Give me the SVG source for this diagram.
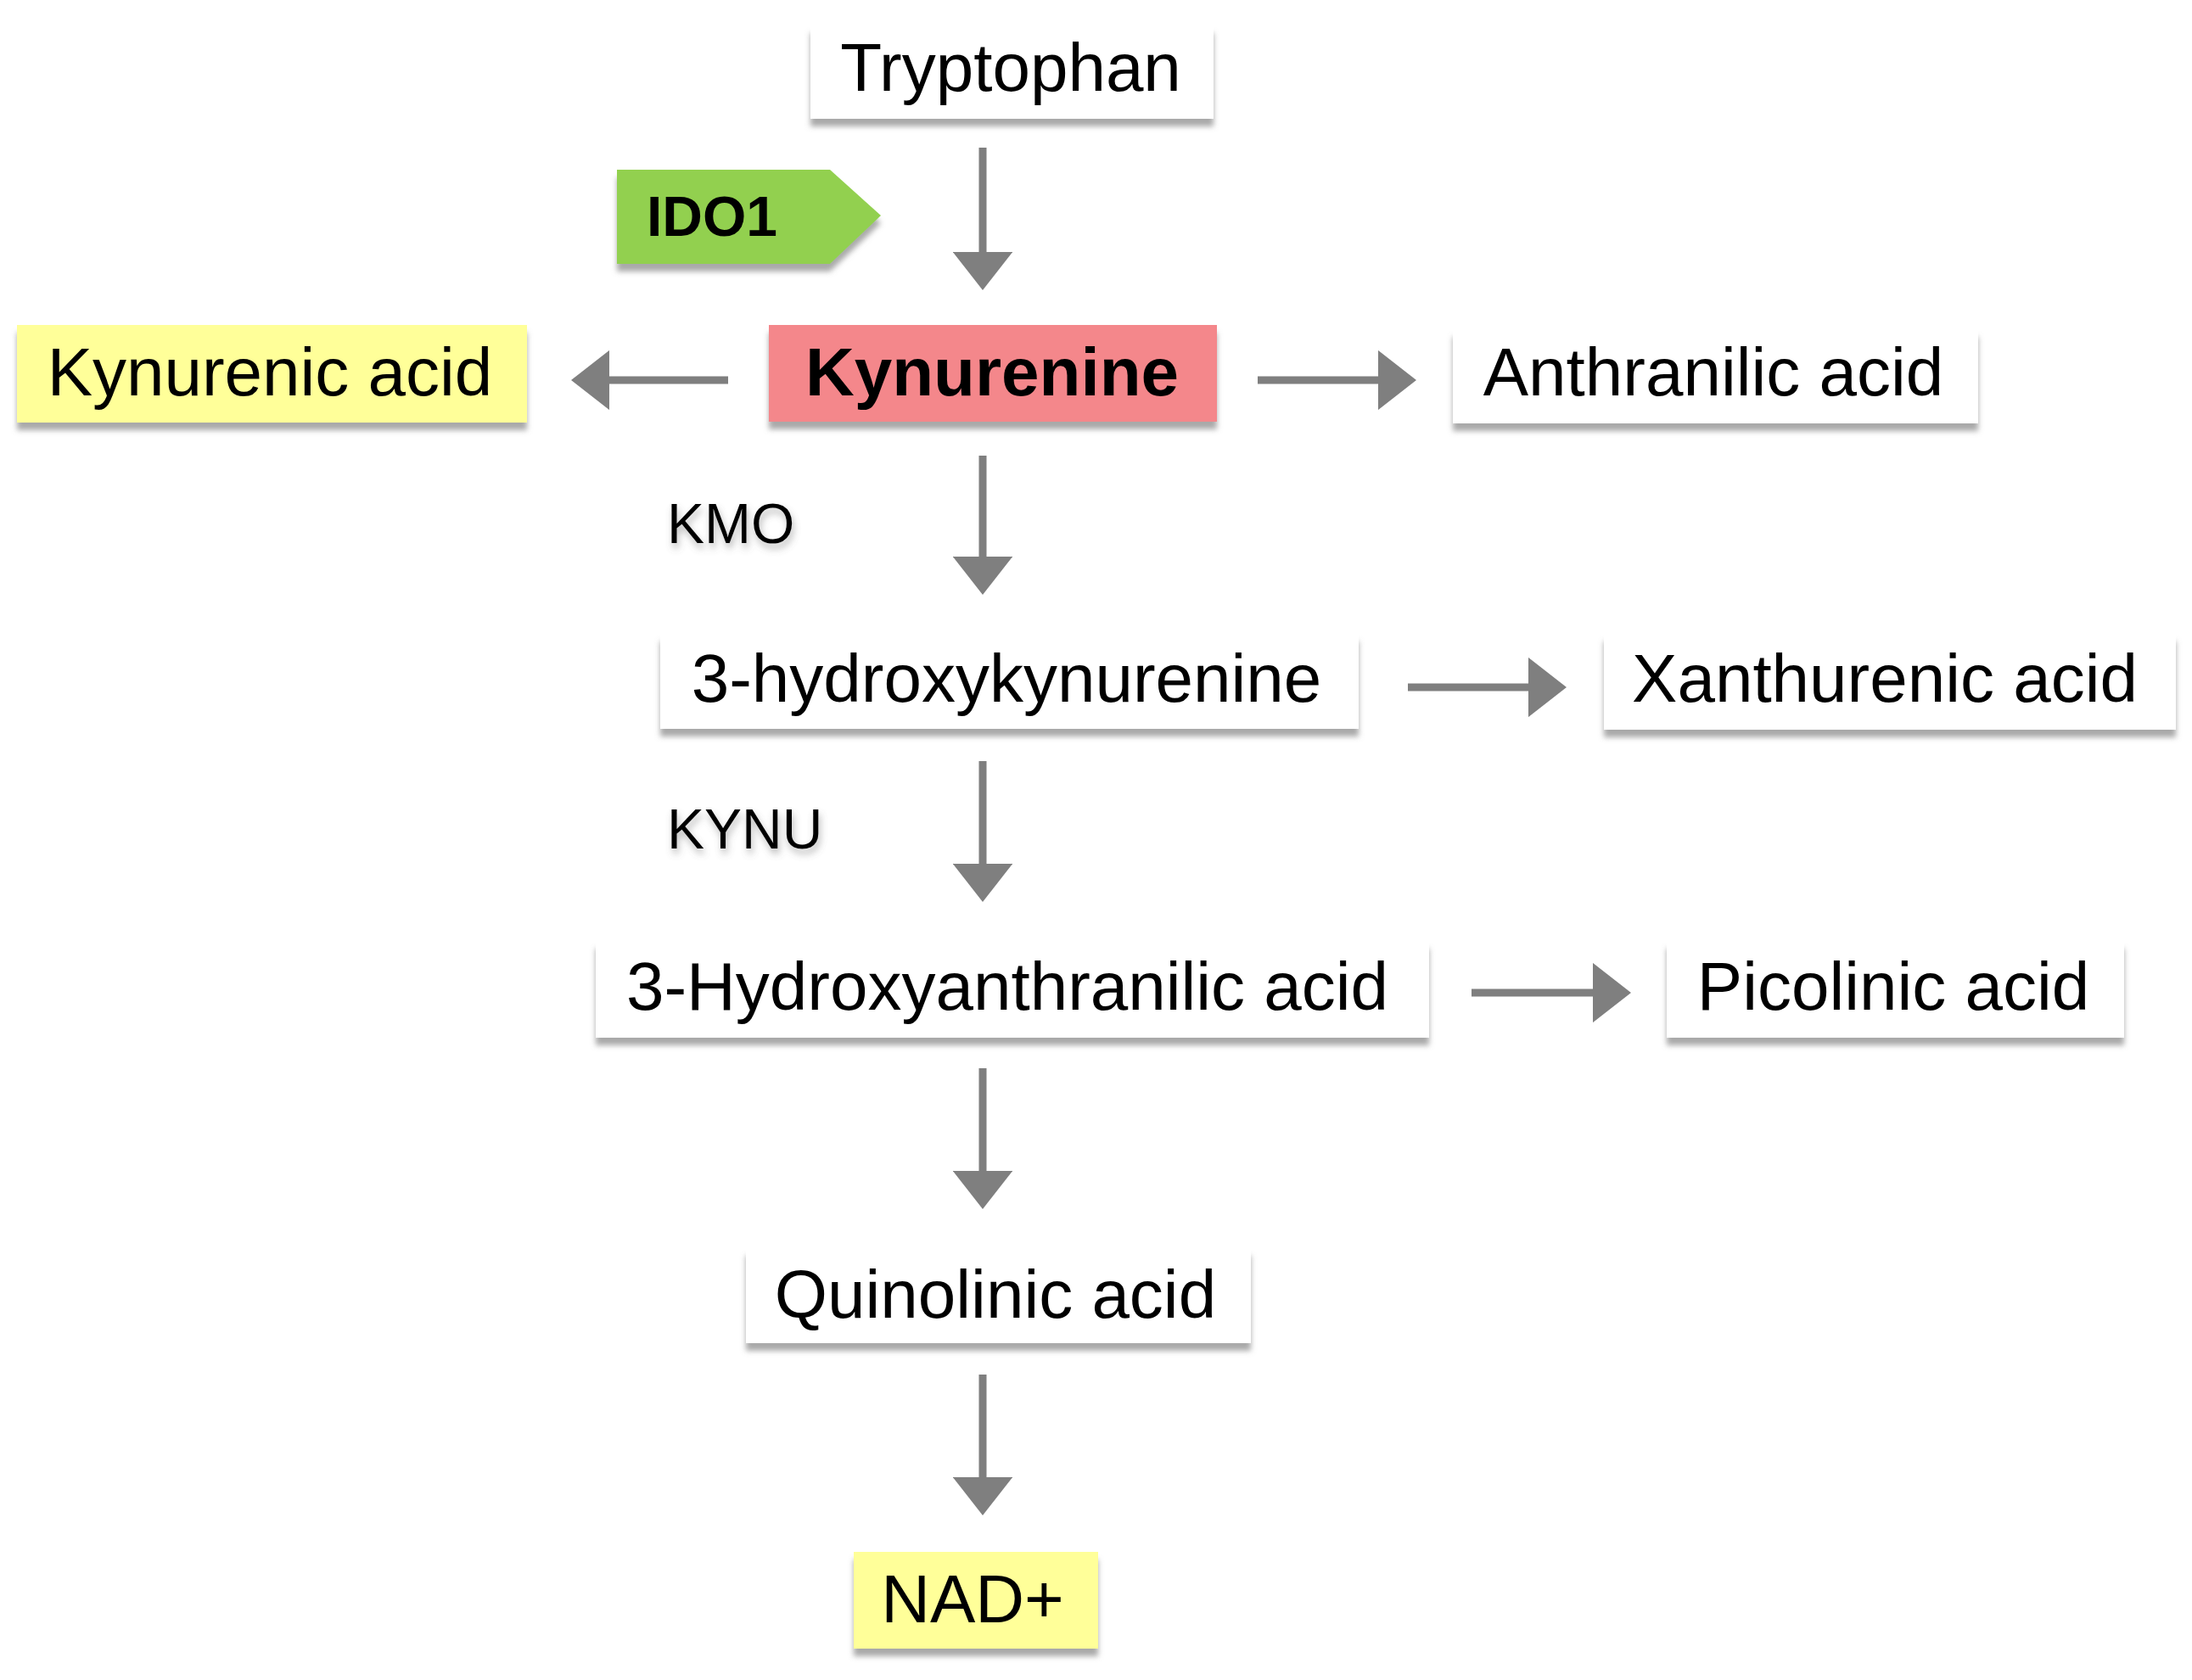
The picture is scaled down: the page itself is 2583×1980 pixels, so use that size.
<svg xmlns="http://www.w3.org/2000/svg" width="2583" height="1980" viewBox="0 0 2583 1980">
<style>
.box{filter:url(#sh)}
.w{fill:#ffffff}
.y{fill:#FFFF99}
.p{fill:#F4878B}
.t{font-family:"Liberation Sans",Arial,sans-serif;font-size:80px;fill:#000;text-anchor:middle}
.b{font-weight:bold}
.lab{font-family:"Liberation Sans",Arial,sans-serif;font-size:66px;fill:#000;filter:url(#tsh)}
.ar{stroke:#7F7F7F;stroke-width:9;fill:none;marker-end:url(#ah)}
</style>
<defs>
<filter id="sh" x="-10%" y="-20%" width="120%" height="150%">
<feDropShadow dx="0" dy="9" stdDeviation="3" flood-color="#7a7a7a" flood-opacity="0.65"/>
</filter>
<filter id="tsh" x="-10%" y="-20%" width="130%" height="160%">
<feDropShadow dx="2" dy="6" stdDeviation="4" flood-color="#666" flood-opacity="0.45"/>
</filter>
<marker id="ah" viewBox="0 0 5 7.8" refX="0" refY="3.9" markerWidth="5" markerHeight="7.8" markerUnits="strokeWidth" orient="auto">
<path d="M0,0 L5,3.9 L0,7.8 Z" fill="#7F7F7F"/>
</marker>
</defs>
<rect width="2583" height="1980" fill="#ffffff"/>

<g id="connectors">
<line class="ar" x1="1158" y1="174" x2="1158" y2="297"/>
<line class="ar" x1="858" y1="448" x2="718" y2="448"/>
<line class="ar" x1="1482" y1="448" x2="1624" y2="448"/>
<line class="ar" x1="1158" y1="537" x2="1158" y2="656"/>
<line class="ar" x1="1659" y1="810" x2="1801" y2="810"/>
<line class="ar" x1="1158" y1="897" x2="1158" y2="1018"/>
<line class="ar" x1="1734" y1="1170" x2="1877" y2="1170"/>
<line class="ar" x1="1158" y1="1259" x2="1158" y2="1380"/>
<line class="ar" x1="1158" y1="1620" x2="1158" y2="1741"/>
</g>

<g id="tryptophan">
<rect class="box w" x="955" y="30" width="475" height="110"/>
<text class="t" x="1191" y="107">Tryptophan</text>
</g>

<g id="ido1">
<path class="box" d="M727,200 L978,200 L1038,254 L978,311 L727,311 Z" fill="#92D050"/>
<text class="b" x="762" y="278" font-family="Liberation Sans,Arial,sans-serif" font-size="66" fill="#000">IDO1</text>
</g>

<g id="kynurenine">
<rect class="box p" x="906" y="383" width="528" height="114"/>
<text class="t b" x="1169" y="466">Kynurenine</text>
</g>

<g id="kynurenic-acid">
<rect class="box y" x="20" y="383" width="601" height="115"/>
<text class="t" x="318" y="466">Kynurenic acid</text>
</g>

<g id="anthranilic-acid">
<rect class="box w" x="1712" y="388" width="619" height="111"/>
<text class="t" x="2019" y="466">Anthranilic acid</text>
</g>

<g id="kmo">
<text class="lab" x="786" y="640">KMO</text>
</g>

<g id="hydroxykynurenine">
<rect class="box w" x="778" y="747" width="823" height="112"/>
<text class="t" x="1186" y="827">3-hydroxykynurenine</text>
</g>

<g id="xanthurenic-acid">
<rect class="box w" x="1890" y="747" width="674" height="113"/>
<text class="t" x="2221" y="827">Xanthurenic acid</text>
</g>

<g id="kynu">
<text class="lab" x="786" y="1000">KYNU</text>
</g>

<g id="hydroxyanthranilic-acid">
<rect class="box w" x="702" y="1109" width="982" height="114"/>
<text class="t" x="1187" y="1190">3-Hydroxyanthranilic acid</text>
</g>

<g id="picolinic-acid">
<rect class="box w" x="1964" y="1109" width="539" height="114"/>
<text class="t" x="2231" y="1190">Picolinic acid</text>
</g>

<g id="quinolinic-acid">
<rect class="box w" x="879" y="1471" width="595" height="112"/>
<text class="t" x="1173" y="1553">Quinolinic acid</text>
</g>

<g id="nad">
<rect class="box y" x="1006" y="1829" width="288" height="114"/>
<text class="t" x="1146" y="1912">NAD+</text>
</g>
</svg>
